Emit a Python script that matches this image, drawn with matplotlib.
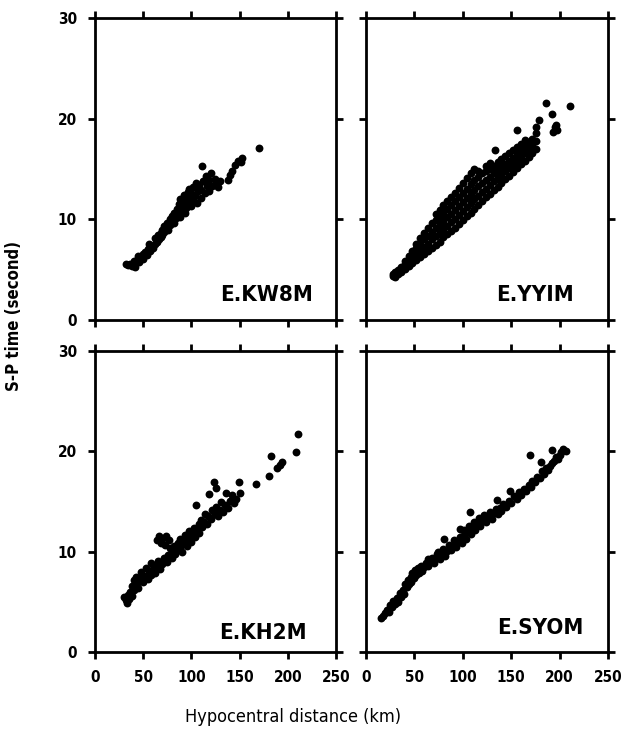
import matplotlib
matplotlib.use("Agg")
import matplotlib.pyplot as plt

plt.rcParams['font.family'] = ['DejaVu Sans']
plt.rcParams['font.stretch'] = 'condensed'

stations = ['E.KW8M', 'E.YYIM', 'E.KH2M', 'E.SYOM']
x_ticks = [0, 50, 100, 150, 200, 250]
y_ticks = [0, 10, 20, 30]

# S-P time vs hypocentral distance
kw8m_dist = [32, 34, 36, 38, 40, 42, 40, 44, 46, 45, 48, 50, 50, 52, 54, 55, 57, 58, 60, 56,
             62, 62, 64, 65, 66, 68, 68, 70, 70, 72, 72, 74, 75, 76, 78, 78, 80, 80, 82, 82,
             84, 85, 86, 87, 88, 88, 90, 90, 92, 92, 93, 94,
             96, 96, 98, 98, 100, 100, 102, 102, 104, 105, 106, 107, 108, 110, 110, 111, 112,
             114, 115, 116, 118, 118, 120, 121, 124, 126, 128, 130,
             138, 140, 142, 145, 148, 151, 153, 170]
kw8m_sp = [5.6, 5.5, 5.6, 5.4, 5.5, 5.3, 5.9, 6.0, 5.8, 6.4, 6.3, 6.6, 6.1, 6.8, 6.5, 7.1, 6.9, 7.4, 7.2, 7.6,
           7.6, 8.1, 7.8, 8.4, 8.0, 8.6, 8.2, 8.9, 8.4, 8.7, 9.3, 9.0, 9.6, 8.9, 9.4, 10.0, 9.7, 10.3, 9.6, 10.6,
           10.1, 11.0, 10.5, 11.5, 10.2, 12.0, 10.8, 11.3, 11.8, 12.4, 10.6, 11.1,
           12.7, 11.6, 12.2, 13.0, 11.3, 12.6, 13.2, 11.8, 12.3, 13.6, 11.6, 12.8, 13.4, 12.1, 12.9, 15.3, 13.8,
           12.6, 14.3, 13.3, 13.9, 12.8, 14.6, 13.3, 14.0, 13.6, 13.2, 13.8,
           13.9, 14.4, 14.8, 15.4, 15.8, 15.7, 16.1, 17.1]

yyim_dist = [28, 28, 30, 30, 33, 33, 36, 36, 36, 40, 40, 40, 44, 44, 44, 48, 48, 48,
             52, 52, 52, 52, 56, 56, 56, 56, 60, 60, 60, 60, 64, 64, 64, 64, 68, 68, 68, 68,
             72, 72, 72, 72, 72, 76, 76, 76, 76, 76, 80, 80, 80, 80, 80, 84, 84, 84, 84, 84,
             88, 88, 88, 88, 88, 92, 92, 92, 92, 92, 96, 96, 96, 96, 96, 100, 100, 100, 100, 100,
             104, 104, 104, 104, 104, 108, 108, 108, 108, 108, 112, 112, 112, 112, 112,
             116, 116, 116, 116, 116, 120, 120, 120, 120, 124, 124, 124, 124, 124,
             128, 128, 128, 128, 128, 132, 132, 132, 132, 136, 136, 136, 136, 140, 140, 140, 140,
             144, 144, 144, 144, 148, 148, 148, 148, 152, 152, 152, 152, 156, 156, 156, 156,
             160, 160, 160, 160, 164, 164, 164, 164, 168, 168, 168, 172, 172, 172, 176, 176, 176, 176,
             133, 156, 179, 186, 192, 193, 195, 197, 196, 211]
yyim_sp = [4.4, 4.6, 4.3, 4.8, 4.6, 5.0, 4.8, 5.3, 5.0, 5.1, 5.6, 5.9, 5.4, 5.9, 6.4, 5.7, 6.3, 6.9,
           6.0, 6.6, 7.2, 7.6, 6.3, 7.0, 7.6, 8.1, 6.6, 7.3, 8.0, 8.6, 6.9, 7.6, 8.3, 9.1, 7.2, 8.0, 8.7, 9.6,
           7.5, 8.3, 9.1, 9.9, 10.5, 7.8, 8.6, 9.5, 10.3, 10.9, 8.2, 9.0, 9.8, 10.6, 11.4, 8.5, 9.3, 10.2, 11.0, 11.8,
           8.8, 9.7, 10.5, 11.4, 12.2, 9.1, 10.0, 10.9, 11.8, 12.6, 9.5, 10.4, 11.3, 12.2, 13.1, 9.9, 10.8, 11.7, 12.6, 13.6,
           10.3, 11.2, 12.1, 13.0, 14.1, 10.6, 11.6, 12.5, 13.5, 14.6, 11.0, 12.0, 12.9, 13.9, 15.0,
           11.4, 12.3, 13.3, 14.2, 14.8, 11.8, 12.7, 13.6, 14.6, 12.2, 13.0, 13.9, 14.8, 15.3,
           12.5, 13.4, 14.2, 15.0, 15.6, 12.9, 13.8, 14.6, 15.3, 13.2, 14.1, 14.9, 15.7, 13.6, 14.4, 15.2, 16.0,
           14.0, 14.8, 15.5, 16.3, 14.3, 15.1, 15.8, 16.6, 14.7, 15.4, 16.1, 16.9, 15.1, 15.8, 16.5, 17.2,
           15.5, 16.2, 16.9, 17.5, 15.8, 16.6, 17.3, 17.9, 16.2, 17.0, 17.7, 16.6, 17.4, 18.0, 17.0, 17.8, 18.6, 19.2,
           16.9, 18.9, 19.9, 21.6, 20.5, 18.7, 19.2, 18.9, 19.4, 21.3]

kh2m_dist = [30, 32, 33, 34, 35, 36, 38, 38, 40, 40, 42, 43, 45, 45, 47, 48, 50, 52, 53, 55,
             56, 58, 58, 60, 62, 63, 64, 65, 66, 67, 68, 70, 70, 72, 73, 74, 75, 76, 77, 78,
             80, 80, 82, 83, 85, 86, 88, 88, 90, 92, 93, 95, 96, 98, 100, 101, 103, 104, 106, 108,
             108, 110, 111, 113, 114, 116, 117, 118, 120, 121, 123, 124, 126, 126, 128, 130, 131, 133, 135, 136,
             138, 140, 142, 144, 146, 149, 150, 105, 167, 180, 183, 189, 192, 194, 209, 211]
kh2m_sp = [5.5, 5.2, 4.9, 5.7, 5.3, 6.0, 5.6, 6.6, 7.2, 6.2, 6.7, 7.5, 6.4, 7.0, 7.4, 8.0, 7.0, 7.6, 8.4, 7.3,
           8.1, 7.7, 8.9, 8.3, 7.9, 8.7, 11.2, 9.1, 11.6, 8.3, 10.9, 8.8, 11.3, 9.4, 10.7, 11.6, 9.0, 9.7, 11.2, 10.4,
           9.4, 10.0, 10.6, 9.8, 10.2, 10.9, 10.5, 11.3, 10.0, 11.0, 11.7, 10.6, 11.4, 12.1, 11.0, 11.8, 12.4, 11.5, 12.2, 12.8,
           11.9, 13.2, 12.5, 13.0, 13.8, 12.8, 13.6, 15.7, 13.3, 14.2, 16.9, 13.8, 16.3, 14.5, 13.6, 14.2, 15.0, 14.0, 14.7, 15.8,
           14.4, 15.1, 15.6, 14.9, 15.3, 16.9, 15.8, 14.7, 16.7, 17.5, 19.5, 18.3, 18.6, 18.9, 19.9, 21.7]

syom_dist = [16, 18, 20, 22, 24, 25, 27, 28, 30, 32, 33, 35, 36, 38, 39, 40, 42, 43, 44, 46,
             47, 48, 50, 51, 52, 54, 55, 57, 58, 60, 62, 64, 64, 66, 68, 70, 72, 73, 74, 76,
             78, 80, 81, 82, 84, 86, 88, 90, 91, 93, 95, 97, 97, 99, 100, 101, 103, 104, 106, 107,
             108, 110, 112, 113, 115, 117, 118, 120, 122, 124, 126, 128, 130, 132, 135, 134, 136, 138, 140, 142,
             145, 148, 149, 150, 153, 156, 158, 160, 163, 165, 168, 170, 172, 175, 177, 180, 182, 184, 186, 188,
             190, 192, 194, 196, 198, 200, 202, 204, 207, 192, 169, 181]
syom_sp = [3.4, 3.6, 3.9, 4.2, 4.0, 4.7, 4.5, 5.1, 4.8, 5.4, 5.0, 5.9, 5.5, 6.2, 5.8, 6.8, 6.5, 7.2, 6.8, 7.5,
           7.0, 7.9, 7.4, 8.2, 7.7, 8.4, 7.9, 8.6, 8.1, 8.5, 8.9, 9.3, 8.6, 9.0, 9.4, 8.9, 9.4, 9.8, 10.0, 9.3,
           9.8, 10.3, 11.3, 9.6, 10.1, 10.7, 10.2, 10.6, 11.2, 10.5, 11.0, 12.3, 11.5, 10.9, 11.6, 12.2, 11.3, 12.0, 12.6, 14.0,
           11.8, 12.4, 13.0, 12.2, 12.8, 13.4, 12.6, 13.1, 13.7, 13.0, 13.5, 14.0, 13.3, 13.9, 15.2, 14.3, 13.8, 14.4, 14.1, 14.8,
           14.5, 15.1, 16.0, 14.9, 15.5, 15.3, 15.9, 15.6, 16.2, 16.0, 16.6, 16.4, 17.0, 16.9, 17.4, 17.3, 18.0, 17.7, 18.3, 18.1,
           18.5, 18.8, 19.0, 19.4, 19.2, 19.6, 19.9, 20.2, 20.0, 20.1, 19.6, 18.9]

dists = [kw8m_dist, yyim_dist, kh2m_dist, syom_dist]
sps = [kw8m_sp, yyim_sp, kh2m_sp, syom_sp]

fig = plt.figure(figsize=(6.22, 7.29), dpi=100)

# axes boxes in figure fraction: left, bottom, width, height
boxes = [(0.1527, 0.561, 0.3875, 0.4143), (0.5884, 0.561, 0.389, 0.4143),
         (0.1527, 0.1056, 0.3875, 0.4129), (0.5884, 0.1056, 0.389, 0.4129)]
label_pos = [(0.905, 0.05), (0.86, 0.05), (0.88, 0.03), (0.90, 0.045)]

for i in range(4):
    ax = fig.add_axes(boxes[i])
    ax.scatter(dists[i], sps[i], s=32, c='black', marker='o', linewidths=0)
    ax.set_xlim(0, 250)
    ax.set_ylim(0, 30)
    ax.set_xticks(x_ticks)
    ax.set_yticks(y_ticks)
    for sp in ax.spines.values():
        sp.set_linewidth(2)
    ax.tick_params(direction='out', length=5, width=2, top=True, right=True,
                   labelsize=11, pad=8)
    for lab in ax.get_xticklabels() + ax.get_yticklabels():
        lab.set_fontweight('bold')
    if i < 2:
        ax.tick_params(labelbottom=False)
    if i % 2 == 1:
        ax.tick_params(labelleft=False)
    lx, ly = label_pos[i]
    ax.text(lx, ly, stations[i], transform=ax.transAxes, ha='right', va='bottom',
            fontsize=16, fontweight='bold')

fig.text(0.471, 0.0165, 'Hypocentral distance (km)', ha='center', va='center', fontsize=13)
fig.text(0.023, 0.566, 'S-P time (second)', ha='center', va='center', rotation=90,
         fontsize=12, fontweight='bold')

fig.savefig('out.png', dpi=100)
